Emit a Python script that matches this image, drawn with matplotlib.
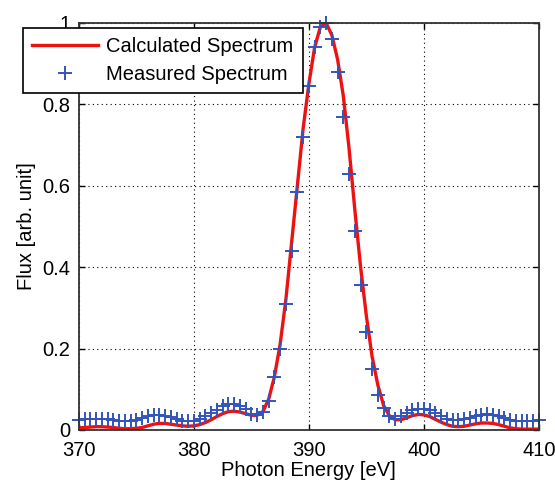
import numpy as np
import matplotlib
matplotlib.use("Agg")
import matplotlib.pyplot as plt

plt.rcParams['font.family'] = ['Liberation Sans', 'DejaVu Sans']

# photon energy grid [eV]
energy = np.arange(370.0, 410.01, 0.5)

# calculated spectrum
calc_flux = [
    0.005, 0.006, 0.007, 0.008, 0.008, 0.007, 0.006, 0.004, 0.003, 0.003,
    0.004, 0.006, 0.010, 0.014, 0.016, 0.016, 0.014, 0.012, 0.010, 0.009,
    0.010, 0.013, 0.018, 0.025, 0.033, 0.040, 0.045, 0.046, 0.044, 0.040,
    0.036, 0.036, 0.045, 0.075, 0.13, 0.21, 0.32, 0.46, 0.60, 0.74,
    0.85, 0.94, 0.99, 1.0, 0.97, 0.91, 0.82, 0.69, 0.54, 0.40,
    0.28, 0.18, 0.11, 0.06, 0.035, 0.025, 0.025, 0.030, 0.035, 0.038,
    0.037, 0.033, 0.026, 0.019, 0.013, 0.009, 0.008, 0.009, 0.012, 0.015,
    0.017, 0.017, 0.016, 0.013, 0.009, 0.005, 0.003, 0.002, 0.002, 0.002,
    0.002,
]

# measured spectrum
meas_flux = [
    0.025, 0.027, 0.026, 0.027, 0.028, 0.026, 0.024, 0.022, 0.022, 0.023,
    0.025, 0.030, 0.034, 0.036, 0.037, 0.035, 0.031, 0.027, 0.023, 0.021,
    0.022, 0.027, 0.034, 0.042, 0.050, 0.058, 0.063, 0.064, 0.060, 0.052,
    0.040, 0.036, 0.045, 0.070, 0.13, 0.20, 0.31, 0.44, 0.585, 0.72,
    0.845, 0.94, 0.99, 1.0, 0.96, 0.88, 0.77, 0.63, 0.49, 0.355,
    0.24, 0.15, 0.085, 0.053, 0.033, 0.028, 0.035, 0.042, 0.048, 0.052,
    0.052, 0.048, 0.042, 0.035, 0.028, 0.025, 0.025, 0.027, 0.030, 0.034,
    0.037, 0.038, 0.036, 0.033, 0.029, 0.025, 0.023, 0.022, 0.022, 0.023,
    0.024,
]

xticks = [370, 380, 390, 400, 410]
yticks = [0, 0.2, 0.4, 0.6, 0.8, 1]
ytick_labels = ['0', '0.2', '0.4', '0.6', '0.8', '1']

fig = plt.figure(figsize=(5.55, 4.88), dpi=100)
ax = fig.add_axes([0.142, 0.119, 0.829, 0.834])

ax.plot(energy, calc_flux, color='#ee1111', lw=2.4, label='Calculated Spectrum')
ax.plot(energy, meas_flux, ls='none', marker='+', ms=10, mew=1.4,
        color='#3355bb', label='Measured Spectrum', clip_on=False)

ax.set_xlim(370, 410)
ax.set_ylim(0, 1)
ax.set_xticks(xticks)
ax.set_yticks(yticks)
ax.set_yticklabels(ytick_labels)
ax.tick_params(direction='in', length=4, width=1, top=True, right=True,
               labelsize=14.5)
ax.tick_params(axis='x', pad=8)
ax.tick_params(axis='y', pad=6)
ax.grid(True, color='black', ls=(0, (1, 3)), lw=0.8)
for s in ax.spines.values():
    s.set_linewidth(1.3)
    s.set_color('#333333')

ax.set_xlabel('Photon Energy [eV]', fontsize=14.5, labelpad=1)
ax.set_ylabel('Flux [arb. unit]', fontsize=14.5, labelpad=5)

leg = ax.legend(loc='upper left', bbox_to_anchor=(-0.122, 0.987),
                borderaxespad=0, fontsize=14.5, handlelength=3.3,
                handletextpad=0.4, labelspacing=0.45, borderpad=0.45,
                fancybox=False, framealpha=1, edgecolor='black')
leg.get_frame().set_linewidth(1.2)

fig.savefig('out.png', dpi=100)
